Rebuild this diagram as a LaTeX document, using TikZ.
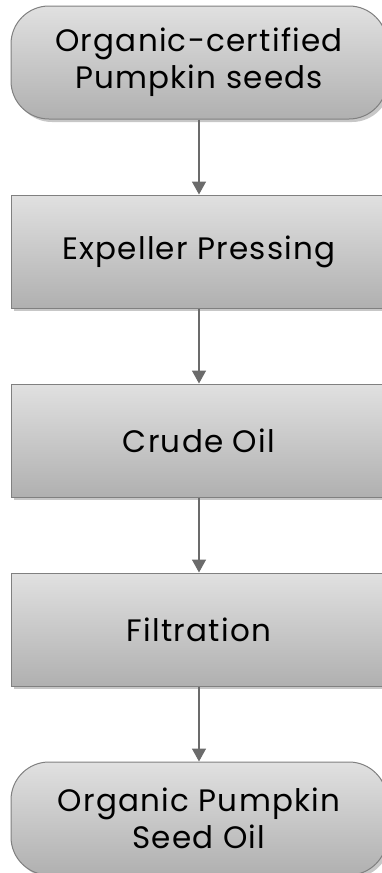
\documentclass[tikz,border=0pt]{standalone}
\usepackage{fontspec}
\setmainfont{Poppins}[LetterSpace=4]
\usepackage{tikz}
\usetikzlibrary{positioning, arrows.meta, shadows}

\tikzset{
    stepbox/.style = {draw=black!50, line width=1pt, top color=black!12, bottom color=black!31,
        minimum width=376pt, minimum height=113pt, align=center, inner sep=0pt,
        font=\fontsize{31}{37}\selectfont,
        drop shadow={shadow xshift=3pt, shadow yshift=-3pt, fill=black!22, opacity=1}},
    endbox/.style = {stepbox, rounded corners=38pt},
    flow/.style = {draw=black!58, line width=1.6pt, -{Triangle[width=14pt,length=13pt]}}
}

\begin{document}
\begin{tikzpicture}[node distance=75pt]
    \useasboundingbox (0,0) rectangle (382pt,-873pt);

    % Process chain
    \node[endbox] (seeds) at (199pt,-62.5pt) {Organic-certified\\Pumpkin seeds};
    \node[stepbox, below=of seeds] (press) {Expeller Pressing};
    \node[stepbox, below=of press] (crude) {Crude Oil};
    \node[stepbox, below=of crude] (filter) {Filtration};
    \node[endbox, below=of filter] (oil) {Organic Pumpkin\\Seed Oil};

    % Arrows
    \draw[flow] (seeds) -- (press);
    \draw[flow] (press) -- (crude);
    \draw[flow] (crude) -- (filter);
    \draw[flow] (filter) -- (oil);
\end{tikzpicture}
\end{document}
